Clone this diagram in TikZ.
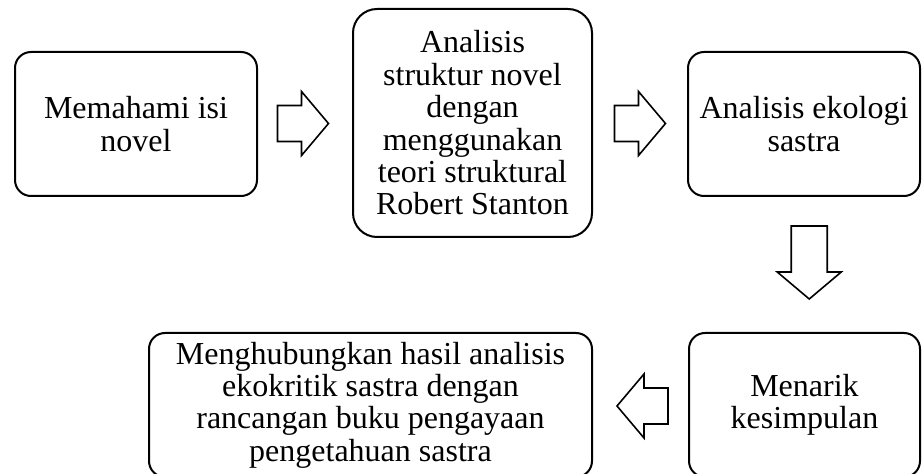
\documentclass[tikz,border=0pt]{standalone}
\usepackage{fontspec}
\setmainfont{Liberation Serif}
\usetikzlibrary{calc}

\begin{document}
\begin{tikzpicture}[x=0.75pt, y=-0.75pt,
	box/.style={draw, line width=1.5pt, rounded corners=12pt, inner sep=0pt, outer sep=0pt, align=center, font=\fontsize{24}{24.3}\selectfont},
	arrowline/.style={draw, line width=1.2pt, line join=miter, fill=white},
	pics/blockarrow/.style={code={
		\draw[arrowline] (-#1/2,-18) -- (#1/2-27,-18) -- (#1/2-27,-32) -- (#1/2,0) -- (#1/2-27,32) -- (#1/2-27,18) -- (-#1/2,18) -- cycle;
	}}]
	\useasboundingbox (0,0) rectangle (922,474);
	% top row
	\node[box, minimum width=181.5pt, minimum height=108pt] (memahami) at (136,124) {Memahami isi\\novel};
	\node[box, minimum width=179.25pt, minimum height=171pt, rounded corners=18pt] (struktur) at (472.5,123) {Analisis\\struktur novel\\dengan\\menggunakan\\teori struktural\\Robert Stanton};
	\node[box, minimum width=174pt, minimum height=108pt] (ekologi) at (804,124) {Analisis ekologi\\sastra};
	% bottom row
	\node[box, minimum width=173.25pt, minimum height=108pt] (menarik) at (804.5,405) {Menarik\\kesimpulan};
	\node[box, minimum width=332.25pt, minimum height=108pt] (hubungkan) at (370.5,405) {Menghubungkan hasil analisis\\ekokritik sastra dengan\\rancangan buku pengayaan\\pengetahuan sastra};
	% block arrows
	\pic at ($(memahami.east)!.5!(struktur.west)+(-2,0)$) {blockarrow=51};
	\pic at ($(struktur.east)!.5!(ekologi.west)$) {blockarrow=51};
	\pic[rotate=-90] at ($(ekologi.south)!.5!(menarik.north)+(5,-2)$) {blockarrow=73};
	\pic[rotate=180] at ($(menarik.west)!.5!(hubungkan.east)+(2,1)$) {blockarrow=51};
\end{tikzpicture}
\end{document}
